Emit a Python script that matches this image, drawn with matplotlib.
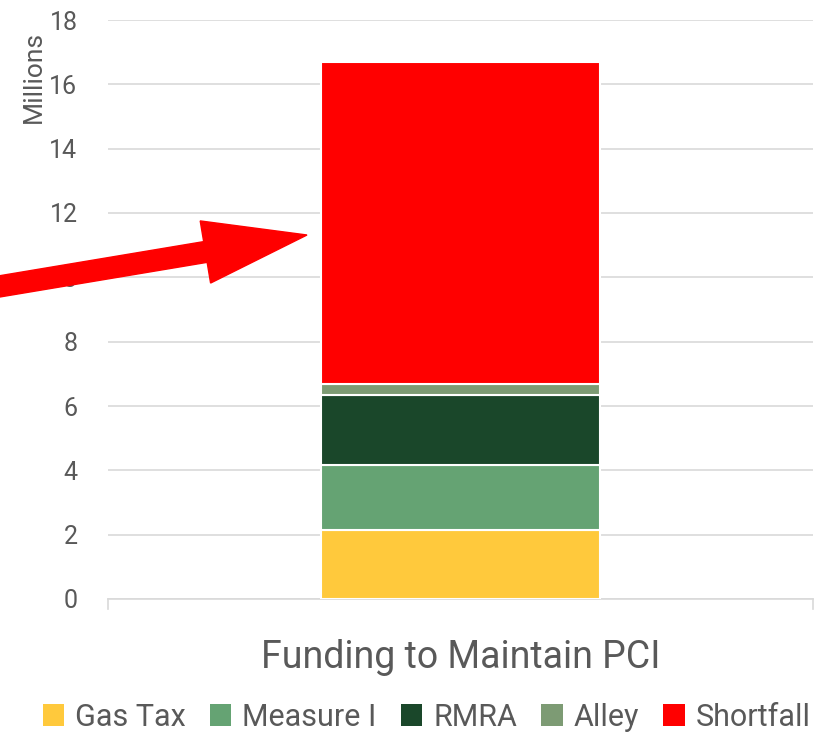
import matplotlib
matplotlib.use('Agg')
import matplotlib.pyplot as plt
from matplotlib.patches import FancyArrow, Patch
from matplotlib.transforms import IdentityTransform

plt.rcParams['font.family'] = ['Roboto', 'DejaVu Sans']

# 数据 / data (millions)
category = ['Funding to Maintain PCI']
series = ['Gas Tax', 'Measure I', 'RMRA', 'Alley', 'Shortfall']
values = [2.14, 2.04, 2.15, 0.35, 10.0]
colors = ['#FFC93C', '#65A373', '#1A472A', '#7D9B74', '#FF0000']
yticks = [0, 2, 4, 6, 8, 10, 12, 14, 16, 18]

W, H = 825, 735
fig = plt.figure(figsize=(W / 100, H / 100), dpi=100)
ax = fig.add_axes([108 / W, 1 - 599 / H, (813 - 108) / W, (599 - 20) / H])

bottom = 0.0
for name, v, c in zip(series, values, colors):
    ax.bar(0, v, width=0.396, bottom=bottom, color=c, edgecolor='white',
           linewidth=1.5, label=name, zorder=3)
    bottom += v

ax.set_xlim(-0.5, 0.5)
ax.set_ylim(0, 18)
ax.set_yticks(yticks)
ax.yaxis.grid(True, color='#D9D9D9', linewidth=1.2, zorder=0)
ax.set_xticks([0])
ax.set_xticklabels(category, fontsize=27, color='#595959')
ax.tick_params(axis='x', length=0, pad=29)
ax.tick_params(axis='y', length=0, labelsize=18, labelcolor='#595959', pad=22)
for s in ['top', 'right', 'left']:
    ax.spines[s].set_visible(False)
ax.spines['bottom'].set_color('#D9D9D9')
ax.spines['bottom'].set_linewidth(1.2)
# 两端小刻度 / small end ticks on the category axis
for xe in (-0.5, 0.5):
    ax.plot([xe, xe], [0, -0.3], color='#D9D9D9', lw=1.2, clip_on=False)

fig.text(34 / W, 1 - 77 / H, 'Millions', rotation=90, fontsize=19,
         color='#595959', ha='center', va='center')

handles = [Patch(facecolor=c, edgecolor='none', label=n) for n, c in zip(series, colors)]
fig.legend(handles=handles, loc='center', bbox_to_anchor=(0.517, 1 - 717 / H),
           ncol=5, frameon=False, fontsize=22, labelcolor='#595959',
           handlelength=0.7, handleheight=0.7, handletextpad=0.35,
           columnspacing=0.8, borderaxespad=0)

# 红色箭头 / red annotation arrow (pixel coordinates)
x0, y0 = -10, H - 288
x1, y1 = 307, H - 235
arrow = FancyArrow(x0, y0, x1 - x0, y1 - y0, width=21, head_width=63,
                   head_length=103, length_includes_head=True,
                   color='#FF0000', transform=IdentityTransform(), zorder=10)
fig.patches.append(arrow)

fig.savefig('out.png', dpi=100)
